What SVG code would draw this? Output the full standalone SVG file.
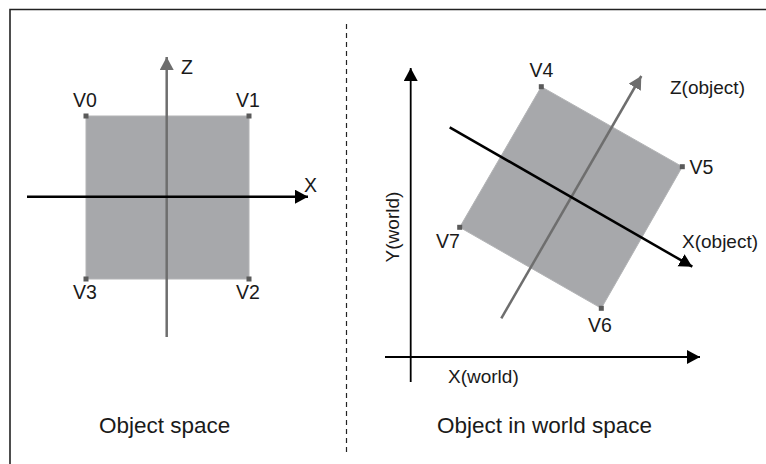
<svg xmlns="http://www.w3.org/2000/svg" width="766" height="464" viewBox="0 0 766 464">
  <style>
    .lbl { font-family: "Liberation Sans", Arial, sans-serif; font-size: 19.5px; fill: #1a1a1a; }
    .lbl17 { font-family: "Liberation Sans", Arial, sans-serif; font-size: 19px; fill: #1a1a1a; }
    .cap { font-family: "Liberation Sans", Arial, sans-serif; font-size: 22.5px; fill: #1a1a1a; }
    .face { fill: #a7a8ab; stroke: #b3b4b6; stroke-width: 1; }
    .vtx { fill: #5a5a5a; }
    .blk { stroke: #000; stroke-width: 2.5; fill: none; }
    .gry { stroke: #6e6e6e; stroke-width: 2.5; fill: none; }
    .wld { stroke: #000; stroke-width: 1.8; fill: none; }
  </style>
  <defs>
    <marker id="ahB" markerUnits="userSpaceOnUse" markerWidth="16" markerHeight="16" refX="13" refY="7" orient="auto">
      <polygon points="0,0 13,7 0,14" fill="#000"/>
    </marker>
    <marker id="ahG" markerUnits="userSpaceOnUse" markerWidth="16" markerHeight="16" refX="13" refY="7" orient="auto">
      <polygon points="0,0 13,7 0,14" fill="#6e6e6e"/>
    </marker>
  </defs>
  <rect width="766" height="464" fill="#fff"/>
  <!-- frame -->
  <path d="M10,470 L10,9.5 L770,9.5" fill="none" stroke="#222" stroke-width="1.6"/>
  <line x1="346.5" y1="24" x2="346.5" y2="453" stroke="#222" stroke-width="1.2" stroke-dasharray="5,4"/>

  <!-- left object -->
  <g id="square-object">
    <rect class="face" x="86" y="116" width="163" height="163"/>
  </g>

  <!-- right object -->
  <g id="square-world">
    <polygon class="face" points="541.3,86.7 682.3,166.7 601.3,308.3 459.7,227.3"/>
  </g>

  <g id="connectors">
    <line class="gry" x1="166.7" y1="337" x2="166.7" y2="57" marker-end="url(#ahG)"/>
    <line class="blk" x1="27" y1="196.7" x2="308" y2="196.7" marker-end="url(#ahB)"/>
    <line class="wld" x1="410.7" y1="382" x2="410.7" y2="68" marker-end="url(#ahB)"/>
    <line class="wld" x1="385" y1="357" x2="700" y2="357" marker-end="url(#ahB)"/>
    <line class="gry" x1="501.3" y1="318.3" x2="641.3" y2="76" marker-end="url(#ahG)"/>
    <line class="blk" x1="449.7" y1="127.3" x2="692.3" y2="266.7" marker-end="url(#ahB)"/>
  </g>

  <g id="vertices">
    <rect class="vtx" x="83.5" y="113.5" width="5" height="5"/>
    <rect class="vtx" x="246.5" y="113.5" width="5" height="5"/>
    <rect class="vtx" x="246.5" y="276.5" width="5" height="5"/>
    <rect class="vtx" x="83.5" y="276.5" width="5" height="5"/>
    <rect class="vtx" x="538.8" y="84.2" width="5" height="5"/>
    <rect class="vtx" x="679.8" y="164.2" width="5" height="5"/>
    <rect class="vtx" x="598.8" y="305.8" width="5" height="5"/>
    <rect class="vtx" x="457.2" y="224.8" width="5" height="5"/>
  </g>

  <g id="labels">
    <text class="lbl" x="73" y="107">V0</text>
    <text class="lbl" x="236" y="107">V1</text>
    <text class="lbl" x="236" y="299">V2</text>
    <text class="lbl" x="73" y="299">V3</text>
    <text class="lbl" x="181" y="74">Z</text>
    <text class="lbl" x="304" y="191.5">X</text>
    <text class="lbl" x="529.5" y="77">V4</text>
    <text class="lbl" x="689.5" y="174">V5</text>
    <text class="lbl" x="588" y="332">V6</text>
    <text class="lbl" x="436" y="248">V7</text>
    <text class="lbl17" x="670" y="94">Z(object)</text>
    <text class="lbl17" x="682" y="248">X(object)</text>
    <text class="lbl17" x="448" y="383">X(world)</text>
    <text class="lbl17" x="399" y="227" text-anchor="middle" transform="rotate(-90 399 227)">Y(world)</text>
    <text class="cap" x="99" y="433">Object space</text>
    <text class="cap" x="437" y="433">Object in world space</text>
  </g>
</svg>
